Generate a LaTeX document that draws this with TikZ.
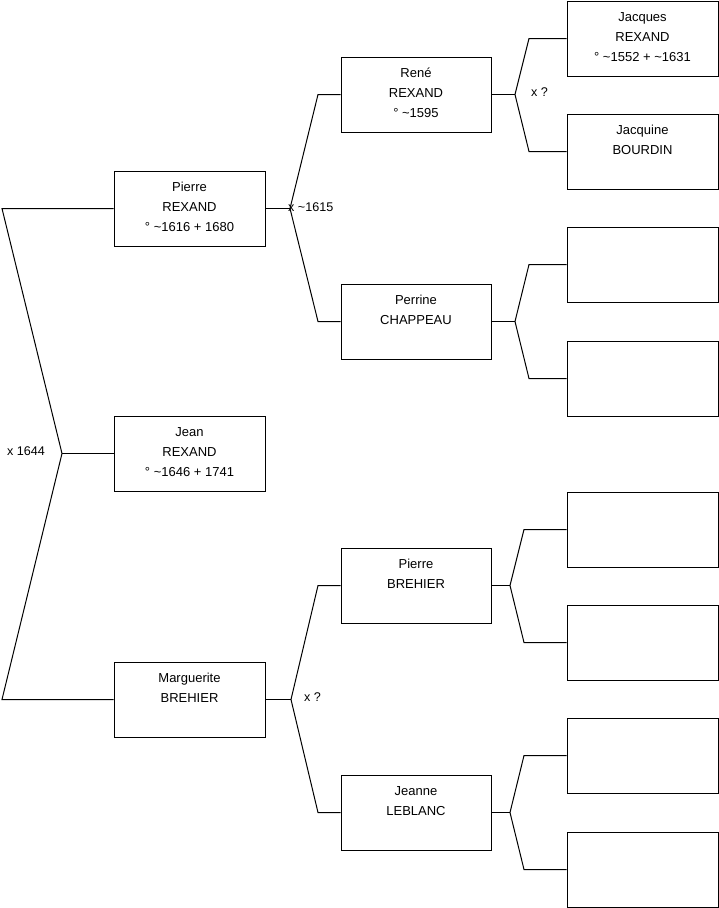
\documentclass[tikz,border=0pt]{standalone}
\usepackage{fontspec}
\setmainfont{Liberation Sans}
\begin{document}
\begin{tikzpicture}[x=1pt,y=-1pt,
  box/.style={draw=black,line width=1pt,minimum width=151pt,minimum height=75pt,inner sep=0pt},
  txt/.style={align=center,anchor=north,inner sep=0pt,font=\fontsize{13}{20}\selectfont},
  lnk/.style={line width=1pt,black},
  mar/.style={inner sep=0pt,font=\fontsize{12.6}{14}\selectfont}]
\useasboundingbox (0,0) rectangle (719,908);
% generation 1
\node[box] (p1) at (189.5,208.5) {};
\node[box] (j1) at (189.5,453.5) {};
\node[box] (m1) at (189.5,699.5) {};
% generation 2
\node[box,minimum width=150pt] (r2) at (416,94.5) {};
\node[box,minimum width=150pt] (pe2) at (416,321.5) {};
\node[box,minimum width=150pt] (pb2) at (416,585.5) {};
\node[box,minimum width=150pt] (je2) at (416,812.5) {};
% generation 3
\node[box] (g1) at (642.5,38.5) {};
\node[box] (g2) at (642.5,151.5) {};
\node[box] (g3) at (642.5,264.5) {};
\node[box] (g4) at (642.5,378.5) {};
\node[box] (g5) at (642.5,529.5) {};
\node[box] (g6) at (642.5,642.5) {};
\node[box] (g7) at (642.5,755.5) {};
\node[box] (g8) at (642.5,869.5) {};
% texts
\node[txt] (tp1) at ([yshift=-7pt]p1.north) {\strut Pierre\\\strut REXAND\\\strut ° \textasciitilde1616 + 1680};
\node[txt] (tj1) at ([yshift=-7pt]j1.north) {\strut Jean\\\strut REXAND\\\strut ° \textasciitilde1646 + 1741};
\node[txt] (tm1) at ([yshift=-7pt]m1.north) {\strut Marguerite\\\strut BREHIER};
\node[txt] (tr2) at ([yshift=-7pt]r2.north) {\strut René\\\strut REXAND\\\strut ° \textasciitilde1595};
\node[txt] (tpe2) at ([yshift=-7pt]pe2.north) {\strut Perrine\\\strut CHAPPEAU};
\node[txt] (tpb2) at ([yshift=-7pt]pb2.north) {\strut Pierre\\\strut BREHIER};
\node[txt] (tje2) at ([yshift=-7pt]je2.north) {\strut Jeanne\\\strut LEBLANC};
\node[txt] (tg1) at ([yshift=-7pt]g1.north) {\strut Jacques\\\strut REXAND\\\strut ° \textasciitilde1552 + \textasciitilde1631};
\node[txt] (tg2) at ([yshift=-7pt]g2.north) {\strut Jacquine\\\strut BOURDIN};
% junction points
\coordinate (a1) at (2,208.5);
\coordinate (a2) at (62,453.5);
\coordinate (a3) at (2,699.5);
\coordinate (b1) at (290,208.5);
\coordinate (b2) at (318,94.5);
\coordinate (b3) at (318,321.5);
\coordinate (c1) at (291,699.5);
\coordinate (c2) at (318,585.5);
\coordinate (c3) at (318,812.5);
\coordinate (d1) at (515,94.5);
\coordinate (d2) at (529,38.5);
\coordinate (d3) at (529,151.5);
\coordinate (e1) at (515,321.5);
\coordinate (e2) at (529,264.5);
\coordinate (e3) at (529,378.5);
\coordinate (f1) at (510,585.5);
\coordinate (f2) at (524,529.5);
\coordinate (f3) at (524,642.5);
\coordinate (h1) at (510,812.5);
\coordinate (h2) at (524,755.5);
\coordinate (h3) at (524,869.5);
% connectors
\draw[lnk] (p1.west) -- (a1) -- (a2) -- (a3) -- (m1.west);
\draw[lnk] (a2) -- (j1.west);
\draw[lnk] (p1.east) -- (b1);
\draw[lnk] (r2.west) -- (b2) -- (b1) -- (b3) -- (pe2.west);
\draw[lnk] (m1.east) -- (c1);
\draw[lnk] (pb2.west) -- (c2) -- (c1) -- (c3) -- (je2.west);
\draw[lnk] (r2.east) -- (d1);
\draw[lnk] (g1.west) -- (d2) -- (d1) -- (d3) -- (g2.west);
\draw[lnk] (pe2.east) -- (e1);
\draw[lnk] (g3.west) -- (e2) -- (e1) -- (e3) -- (g4.west);
\draw[lnk] (pb2.east) -- (f1);
\draw[lnk] (g5.west) -- (f2) -- (f1) -- (f3) -- (g6.west);
\draw[lnk] (je2.east) -- (h1);
\draw[lnk] (g7.west) -- (h2) -- (h1) -- (h3) -- (g8.west);
% marriage labels
\node[mar] (x1) at (26,451) {x 1644};
\node[mar,anchor=west] (x2) at (288,207) {x \textasciitilde1615};
\node[mar,anchor=west] (x3) at (531,92) {x ?};
\node[mar,anchor=west] (x4) at (304,697) {x ?};
\end{tikzpicture}
\end{document}
